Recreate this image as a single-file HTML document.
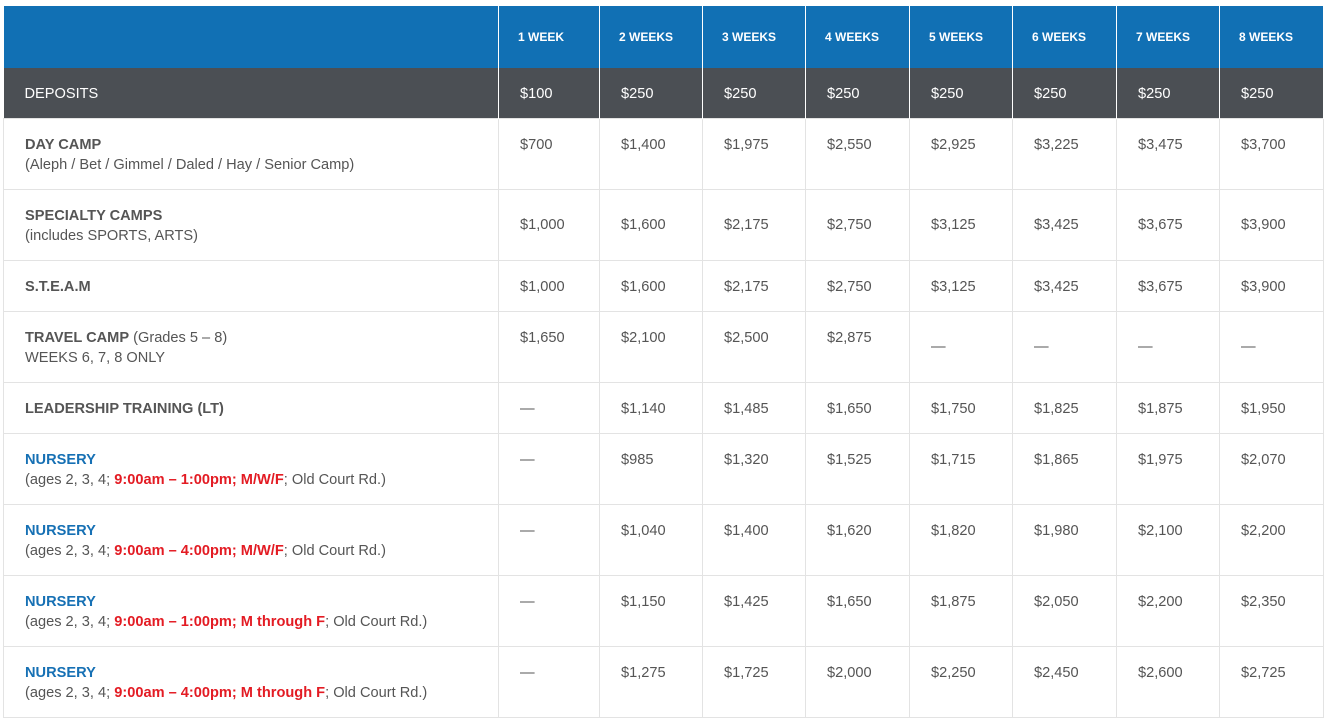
<!DOCTYPE html>
<html><head><meta charset="utf-8"><style>
body{margin:0;background:#fff;width:1328px;height:722px;overflow:hidden;font-family:"Liberation Sans",sans-serif;}
table{position:absolute;left:3px;top:6px;border-collapse:collapse;table-layout:fixed;width:1320px;}
td{font-size:14.6px;color:#555;line-height:20px;padding:16px 0 0 21px;vertical-align:top;border:1px solid #e3e3e3;box-sizing:border-box;}
tr.h td{background:#1170b4;color:#fff;font-weight:bold;font-size:12px;height:62px;vertical-align:middle;padding:0 0 0 19px;border:1px solid #fff;border-top:none;border-bottom:none}
tr.h td:first-child{border-left:none}
tr.d td{background:#4b4f54;color:#fff;height:50px;vertical-align:middle;padding-top:2px;border:1px solid #fff;border-top:none;border-bottom:none}
tr.d td:first-child{border-left:none}
tr.t td{height:71px}
tr.o td{height:51px}
td.m{vertical-align:middle;padding-top:0}
b{color:#555}
.bl{color:#1670b4;font-weight:bold}
.r{color:#e31b23;font-weight:bold}
</style></head><body>
<table>
<colgroup><col style="width:495px"><col style="width:101px"><col style="width:103px"><col style="width:103px"><col style="width:104px"><col style="width:103px"><col style="width:104px"><col style="width:103px"><col style="width:104px"></colgroup>
<tr class="h"><td></td><td>1 WEEK</td><td>2 WEEKS</td><td>3 WEEKS</td><td>4 WEEKS</td><td>5 WEEKS</td><td>6 WEEKS</td><td>7 WEEKS</td><td>8 WEEKS</td></tr>
<tr class="d"><td>DEPOSITS</td><td>$100</td><td>$250</td><td>$250</td><td>$250</td><td>$250</td><td>$250</td><td>$250</td><td>$250</td></tr>
<tr class="t"><td><b>DAY CAMP</b><br>(Aleph / Bet / Gimmel / Daled / Hay / Senior Camp)</td><td>$700</td><td>$1,400</td><td>$1,975</td><td>$2,550</td><td>$2,925</td><td>$3,225</td><td>$3,475</td><td>$3,700</td></tr>
<tr class="t"><td><b>SPECIALTY CAMPS</b><br>(includes SPORTS, ARTS)</td><td class="m">$1,000</td><td class="m">$1,600</td><td class="m">$2,175</td><td class="m">$2,750</td><td class="m">$3,125</td><td class="m">$3,425</td><td class="m">$3,675</td><td class="m">$3,900</td></tr>
<tr class="o"><td><b>S.T.E.A.M</b></td><td>$1,000</td><td>$1,600</td><td>$2,175</td><td>$2,750</td><td>$3,125</td><td>$3,425</td><td>$3,675</td><td>$3,900</td></tr>
<tr class="t"><td><b>TRAVEL CAMP</b> (Grades 5 – 8)<br>WEEKS 6, 7, 8 ONLY</td><td>$1,650</td><td>$2,100</td><td>$2,500</td><td>$2,875</td><td style="padding-top:25px">—</td><td style="padding-top:25px">—</td><td style="padding-top:25px">—</td><td style="padding-top:25px">—</td></tr>
<tr class="o"><td><b>LEADERSHIP TRAINING (LT)</b></td><td>—</td><td>$1,140</td><td>$1,485</td><td>$1,650</td><td>$1,750</td><td>$1,825</td><td>$1,875</td><td>$1,950</td></tr>
<tr class="t"><td><span class="bl">NURSERY</span><br>(ages 2, 3, 4; <span class="r">9:00am – 1:00pm; M/W/F</span>; Old Court Rd.)</td><td>—</td><td>$985</td><td>$1,320</td><td>$1,525</td><td>$1,715</td><td>$1,865</td><td>$1,975</td><td>$2,070</td></tr>
<tr class="t"><td><span class="bl">NURSERY</span><br>(ages 2, 3, 4; <span class="r">9:00am – 4:00pm; M/W/F</span>; Old Court Rd.)</td><td>—</td><td>$1,040</td><td>$1,400</td><td>$1,620</td><td>$1,820</td><td>$1,980</td><td>$2,100</td><td>$2,200</td></tr>
<tr class="t"><td><span class="bl">NURSERY</span><br>(ages 2, 3, 4; <span class="r">9:00am – 1:00pm; M through F</span>; Old Court Rd.)</td><td>—</td><td>$1,150</td><td>$1,425</td><td>$1,650</td><td>$1,875</td><td>$2,050</td><td>$2,200</td><td>$2,350</td></tr>
<tr class="t"><td><span class="bl">NURSERY</span><br>(ages 2, 3, 4; <span class="r">9:00am – 4:00pm; M through F</span>; Old Court Rd.)</td><td>—</td><td>$1,275</td><td>$1,725</td><td>$2,000</td><td>$2,250</td><td>$2,450</td><td>$2,600</td><td>$2,725</td></tr>
</table>
</body></html>
